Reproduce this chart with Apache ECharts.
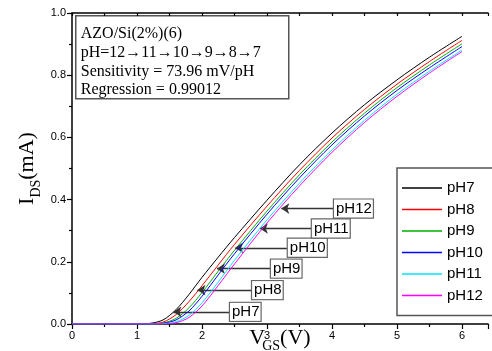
<!DOCTYPE html>
<html>
<head>
<meta charset="utf-8">
<script src="https://cdn.jsdelivr.net/npm/echarts@6/dist/echarts.min.js"></script>
<style>
  html, body { margin: 0; padding: 0; background: #fff; }
  #chart { width: 492px; height: 351px; }
</style>
</head>
<body>
<div id="chart"></div>
<script>
// V_GS sample points (V)
const vgs = [0, 0.5, 1.0, 1.2, 1.4, 1.6, 1.8, 2.0, 2.25, 2.5, 3.0, 3.5, 4.0, 4.5, 5.0, 5.5, 6.0];

// I_DS (mA), one array per pH
const ph7  = [0, 0, 0, 0.002, 0.013, 0.046, 0.095, 0.150, 0.215, 0.278, 0.398, 0.512, 0.614, 0.705, 0.785, 0.858, 0.925];
const ph8  = [0, 0, 0, 0.001, 0.006, 0.030, 0.072, 0.123, 0.190, 0.256, 0.379, 0.494, 0.598, 0.690, 0.771, 0.844, 0.912];
const ph9  = [0, 0, 0, 0,     0.003, 0.018, 0.052, 0.101, 0.170, 0.237, 0.363, 0.480, 0.585, 0.678, 0.760, 0.833, 0.901];
const ph10 = [0, 0, 0, 0,     0.002, 0.013, 0.042, 0.089, 0.158, 0.226, 0.353, 0.470, 0.576, 0.669, 0.751, 0.824, 0.892];
const ph11 = [0, 0, 0, 0,     0.001, 0.007, 0.028, 0.068, 0.135, 0.205, 0.335, 0.453, 0.560, 0.655, 0.739, 0.813, 0.881];
const ph12 = [0, 0, 0, 0,     0,     0.004, 0.021, 0.058, 0.124, 0.193, 0.325, 0.444, 0.552, 0.648, 0.732, 0.807, 0.876];

const seriesNames = ['pH7', 'pH8', 'pH9', 'pH10', 'pH11', 'pH12'];
const seriesData = [ph7, ph8, ph9, ph10, ph11, ph12];
const colors = ['#000000', '#ff0000', '#00b000', '#0000ff', '#00e5ff', '#ff00ff'];

// arrow labels: tip on curve (x, y) and left edge of the label box (x)
const noteTipX   = [1.56, 1.93, 2.23, 2.51, 2.89, 3.22];
const noteY      = [0.039, 0.109, 0.178, 0.245, 0.307, 0.371];
const noteLabelX = [2.43, 2.77, 3.06, 3.32, 3.69, 4.03];

const yTicks = [0, 0.2, 0.4, 0.6, 0.8, 1.0];

const infoLines = [
  'AZO/Si(2%)(6)',
  'pH=12\u219211\u219210\u21929\u21928\u21927',
  'Sensitivity = 73.96 mV/pH',
  'Regression = 0.99012'
];

const serif = 'Liberation Serif, Times New Roman, serif';
const sans = 'Liberation Sans, Arial, sans-serif';

const chart = echarts.init(document.getElementById('chart'), null, {renderer: 'canvas'});

const lineSeries = seriesNames.map((name, i) => ({
  name: name,
  type: 'line',
  data: vgs.map((v, j) => [v, seriesData[i][j]]),
  smooth: 0.3,
  showSymbol: false,
  symbol: 'none',
  lineStyle: {color: colors[i], width: 1},
  itemStyle: {color: colors[i]},
  z: 2 + i
}));

const noteSeries = {
  name: 'notes',
  type: 'line',
  data: [],
  silent: true,
  z: 20,
  markLine: {
    silent: true,
    symbol: ['none', 'arrow'],
    symbolSize: 8,
    lineStyle: {color: '#333', width: 1.4, type: 'solid'},
    label: {show: false},
    data: noteTipX.map((tx, i) => [
      {coord: [noteLabelX[i], noteY[i]]},
      {coord: [tx, noteY[i]]}
    ])
  },
  markPoint: {
    silent: true,
    symbol: 'rect',
    symbolSize: 0.1,
    itemStyle: {color: 'transparent'},
    label: {
      show: true,
      position: 'right',
      distance: 0,
      color: '#000',
      fontFamily: sans,
      fontSize: 15,
      backgroundColor: '#fff',
      borderColor: '#666',
      borderWidth: 1.2,
      padding: [2, 1, 1, 2],
      formatter: p => p.name
    },
    data: noteLabelX.map((lx, i) => ({name: seriesNames[i], coord: [lx, noteY[i]]}))
  }
};

const option = {
  animation: false,
  backgroundColor: '#fff',
  grid: {left: 72, right: 4, top: 13, bottom: 27, containLabel: false, outerBoundsMode: 'none'},
  legend: {
    data: seriesNames,
    orient: 'vertical',
    left: 397,
    top: 168,
    padding: [12, 14, 12, 5],
    itemGap: 5.5,
    itemWidth: 40,
    itemHeight: 1.5,
    icon: 'rect',
    backgroundColor: '#fff',
    borderColor: '#555',
    borderWidth: 1.5,
    borderRadius: 0,
    textStyle: {fontFamily: sans, fontSize: 15, color: '#000', lineHeight: 16},
    selectedMode: false
  },
  xAxis: [{
    type: 'value',
    min: 0,
    max: 6.4,
    interval: 1,
    name: '{v|V}{s|GS}{v|(V)}',
    nameLocation: 'middle',
    nameGap: 3,
    nameMoveOverlap: false,
    nameTextStyle: {
      rich: {
        v: {fontFamily: serif, fontSize: 22, color: '#000', lineHeight: 22, verticalAlign: 'bottom'},
        s: {fontFamily: serif, fontSize: 14, color: '#000', lineHeight: 22, verticalAlign: 'bottom', padding: [0, 0, -4, -3]}
      }
    },
    axisLine: {show: true, onZero: false, lineStyle: {color: '#000', width: 1.5}},
    axisTick: {show: true, inside: false, length: 5, lineStyle: {color: '#000', width: 1.2}},
    minorTick: {show: true, splitNumber: 2, length: 3, lineStyle: {color: '#000', width: 1.2}},
    axisLabel: {color: '#000', fontFamily: sans, fontSize: 11, margin: 6, showMaxLabel: false},
    splitLine: {show: false}
  }, {
    type: 'value',
    position: 'top',
    min: 0,
    max: 6.4,
    interval: 0.5,
    axisLine: {show: true, onZero: false, lineStyle: {color: '#000', width: 1.5}},
    axisTick: {show: true, inside: true, length: 3, lineStyle: {color: '#000', width: 1.2}},
    axisLabel: {show: false},
    splitLine: {show: false}
  }],
  yAxis: {
    type: 'value',
    min: 0,
    max: 1.0,
    interval: 0.2,
    name: '{v|I}{s|DS}{v|(mA)}',
    nameLocation: 'middle',
    nameGap: 34,
    nameMoveOverlap: false,
    nameRotate: 90,
    nameTextStyle: {
      rich: {
        v: {fontFamily: serif, fontSize: 22, color: '#000', lineHeight: 22, verticalAlign: 'bottom'},
        s: {fontFamily: serif, fontSize: 14, color: '#000', lineHeight: 22, verticalAlign: 'bottom', padding: [0, 0, -5, 0]}
      }
    },
    axisLine: {show: true, onZero: false, lineStyle: {color: '#000', width: 1.5}},
    axisTick: {show: true, inside: false, length: 5, lineStyle: {color: '#000', width: 1.2}},
    minorTick: {show: true, splitNumber: 2, length: 3, lineStyle: {color: '#000', width: 1.2}},
    axisLabel: {
      color: '#000',
      fontFamily: sans,
      fontSize: 11,
      margin: 6,
      formatter: v => yTicks.indexOf(+v.toFixed(1)) >= 0 ? v.toFixed(1) : ''
    },
    splitLine: {show: false}
  },
  graphic: [{
    type: 'group',
    left: 75,
    top: 15,
    z: 30,
    children: [{
      type: 'rect',
      shape: {x: 0, y: 0, width: 213, height: 83},
      style: {fill: '#fff', stroke: '#555', lineWidth: 1.5}
    }, {
      type: 'text',
      x: 5,
      y: 9,
      style: {
        text: infoLines.join('\n'),
        font: '16px "Liberation Serif", "Times New Roman", serif',
        lineHeight: 18.7,
        fill: '#000'
      }
    }]
  }],
  series: lineSeries.concat([noteSeries])
};

chart.setOption(option);
</script>
</body>
</html>
